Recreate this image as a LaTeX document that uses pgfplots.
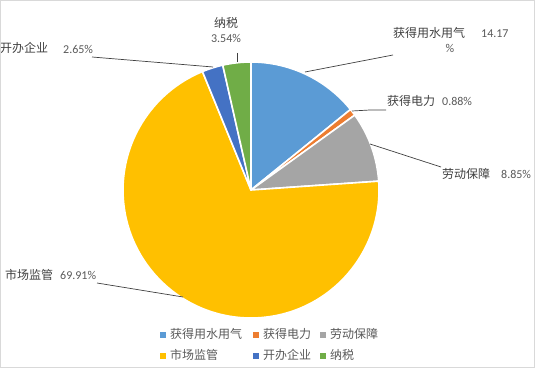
\documentclass[border=0pt]{standalone}
\usepackage{pgfplots}
\pgfplotsset{compat=1.18}
\usepackage{pgfplotstable}
\usepackage{fontspec}
\setmainfont{Carlito}
\newfontfamily\cjk{Noto Sans CJK SC}
\definecolor{cA}{HTML}{5B9BD5}
\definecolor{cB}{HTML}{ED7D31}
\definecolor{cC}{HTML}{A5A5A5}
\definecolor{cD}{HTML}{FFC000}
\definecolor{cE}{HTML}{4472C4}
\definecolor{cF}{HTML}{70AD47}
\definecolor{txtdark}{HTML}{404040}
\definecolor{txtgray}{HTML}{595959}

\pgfplotsset{sqlegend/.style={legend image code/.code={\fill[##1, draw=none] (0bp,-3bp) rectangle (6bp,3bp);\path[draw=none, fill=none] (10bp,0bp);}}}

\pgfplotstableread{
name value
water 14.17
power 0.88
labor 8.85
market 69.91
open 2.65
tax 3.54
}\piedata

\pgfplotstablegetelem{0}{value}\of\piedata\let\vA\pgfplotsretval
\pgfplotstablegetelem{1}{value}\of\piedata\let\vB\pgfplotsretval
\pgfplotstablegetelem{2}{value}\of\piedata\let\vC\pgfplotsretval
\pgfplotstablegetelem{3}{value}\of\piedata\let\vD\pgfplotsretval
\pgfplotstablegetelem{4}{value}\of\piedata\let\vE\pgfplotsretval
\pgfplotstablegetelem{5}{value}\of\piedata\let\vF\pgfplotsretval
\pgfmathsetmacro{\aO}{90}
\pgfmathsetmacro{\aA}{\aO-3.6*\vA}
\pgfmathsetmacro{\aB}{\aA-3.6*\vB}
\pgfmathsetmacro{\aC}{\aB-3.6*\vC}
\pgfmathsetmacro{\aD}{\aC-3.6*\vD}
\pgfmathsetmacro{\aE}{\aD-3.6*\vE}
\pgfmathsetmacro{\aF}{\aE-3.6*\vF}

\newcommand\pieslice[3]{%
  \fill[#3, draw=white, line width=1.6bp, line join=round] (axis cs:251,178) -- +(#1:128bp) arc[start angle=#1, end angle=#2, radius=128bp] -- cycle;}

\begin{document}
\begin{tikzpicture}
\begin{axis}[
  scale only axis, width=535bp, height=368bp,
  xmin=0, xmax=535, ymin=0, ymax=368,
  hide axis, clip=false,
  legend columns=3,
  legend style={at={(axis cs:160,22.5)}, anchor=west, draw=none, fill=none,
    inner sep=0pt, outer sep=0pt,
    font=\cjk\fontsize{12bp}{14bp}\selectfont, text=txtgray,
    row sep=8.5bp, column sep=0pt,
    nodes={inner sep=0pt, outer sep=0pt, text height=10bp, text depth=2.5bp}},
  legend cell align=left,
]
\pieslice{\aO}{\aA}{cA}
\pieslice{\aA}{\aB}{cB}
\pieslice{\aB}{\aC}{cC}
\pieslice{\aC}{\aD}{cD}
\pieslice{\aD}{\aE}{cE}
\pieslice{\aE}{\aF}{cF}

\addlegendimage{sqlegend, fill=cA}
\addlegendentry{\makebox[83bp][l]{获得用水用气}}
\addlegendimage{sqlegend, fill=cB}
\addlegendentry{\makebox[57bp][l]{获得电力}}
\addlegendimage{sqlegend, fill=cC}
\addlegendentry{\makebox[48bp][l]{劳动保障}}
\addlegendimage{sqlegend, fill=cD}
\addlegendentry{\makebox[83bp][l]{市场监管}}
\addlegendimage{sqlegend, fill=cE}
\addlegendentry{\makebox[57bp][l]{开办企业}}
\addlegendimage{sqlegend, fill=cF}
\addlegendentry{\makebox[48bp][l]{纳税}}

% leader lines
\draw[txtdark, line width=0.7bp] (axis cs:237,315) -- (axis cs:237,306);
\draw[txtdark, line width=0.7bp] (axis cs:92,311) -- (axis cs:213,301);
\draw[txtdark, line width=0.7bp] (axis cs:393,313) -- (axis cs:305,296);
\draw[txtdark, line width=0.7bp] (axis cs:386,258) -- (axis cs:370,258) -- (axis cs:352,257);
\draw[txtdark, line width=0.7bp] (axis cs:441,201) -- (axis cs:370,224);
\draw[txtdark, line width=0.7bp] (axis cs:97,85) -- (axis cs:183,71);

% labels
\tikzset{lab/.style={inner sep=0pt, text=txtdark, font=\cjk\fontsize{12bp}{14bp}\selectfont},
         pct/.style={inner sep=0pt, text=txtgray, font=\fontsize{12bp}{14bp}\selectfont}}
\node[lab, anchor=center] at (axis cs:226,345) {纳税};
\node[pct, anchor=center] at (axis cs:226,330) {3.54\%};
\node[lab, anchor=west] at (axis cs:0,320) {开办企业};
\node[pct, anchor=west] at (axis cs:63,319) {2.65\%};
\node[lab, anchor=west] at (axis cs:393,335) {获得用水用气};
\node[pct, anchor=west] at (axis cs:481,334) {14.17};
\node[pct, anchor=center] at (axis cs:450,320) {\%};
\node[lab, anchor=west] at (axis cs:387,267) {获得电力};
\node[pct, anchor=west] at (axis cs:442,267) {0.88\%};
\node[lab, anchor=west] at (axis cs:442,194) {劳动保障};
\node[pct, anchor=west] at (axis cs:501,194) {8.85\%};
\node[lab, anchor=west] at (axis cs:5,93) {市场监管};
\node[pct, anchor=west] at (axis cs:60,93) {69.91\%};

% frame
\draw[color=black!15, line width=1bp] (axis cs:0.5,0.5) rectangle (axis cs:534.5,367.5);
\end{axis}
\end{tikzpicture}
\end{document}
